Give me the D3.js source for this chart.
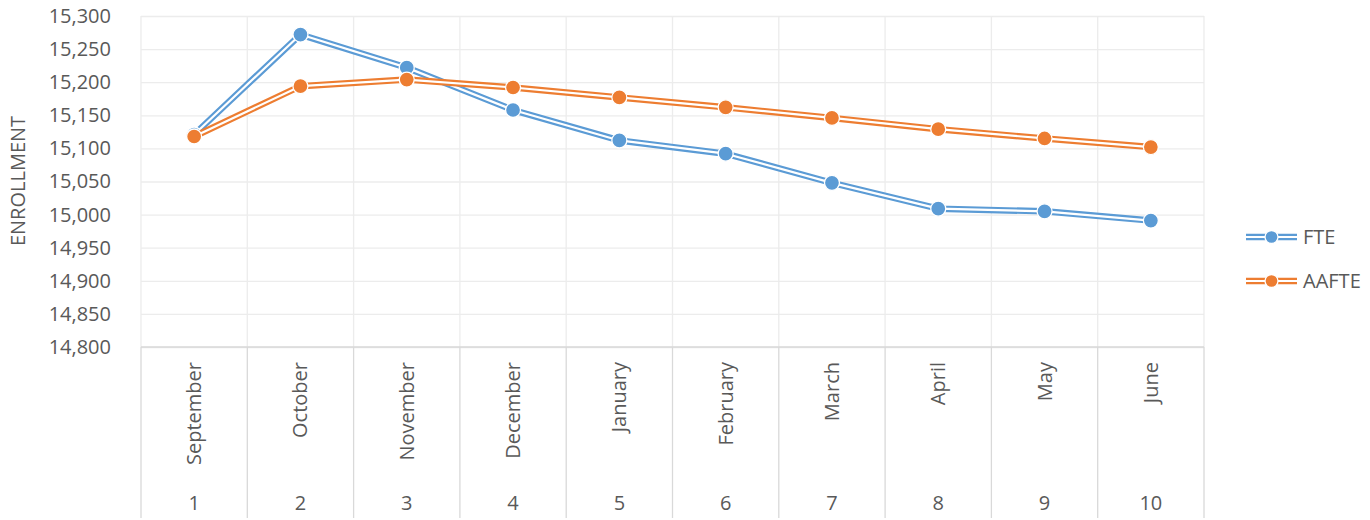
<!DOCTYPE html>
<html>
<head>
<meta charset="utf-8">
<script src="https://cdn.jsdelivr.net/npm/d3@7"></script>
<style>
    body { margin: 0; background: #fff; }
    svg text { font-family: "Open Sans", sans-serif; fill: #595959; }
</style>
</head>
<body>
<div id="content"></div>
<script>
// chart values
const months = ['September', 'October', 'November', 'December', 'January',
    'February', 'March', 'April', 'May', 'June'];
const periods = [1, 2, 3, 4, 5, 6, 7, 8, 9, 10];
const fte = [15121, 15272, 15222, 15158, 15112, 15092, 15048, 15009, 15005, 14991];
const aafte = [15118, 15194, 15204, 15192, 15177, 15162, 15146, 15129, 15115, 15102];
const yTicks = [14800, 14850, 14900, 14950, 15000, 15050, 15100, 15150, 15200, 15250, 15300];

const series = [
    { name: 'FTE', values: fte, color: '#5B9BD5' },
    { name: 'AAFTE', values: aafte, color: '#ED7D31' }
];

const width = 1370, height = 520;
const plot = { left: 141, right: 1204, top: 16, bottom: 347 };
const fontSize = '20px';

const svg = d3.select('#content').append('svg')
    .attr('width', width)
    .attr('height', height);

const x = d3.scaleBand()
    .domain(periods)
    .range([plot.left, plot.right]);

const y = d3.scaleLinear()
    .domain([14800, 15300])
    .range([plot.bottom, plot.top]);

const cx = d => x(d) + x.bandwidth() / 2;
const bounds = periods.map(p => x(p)).concat([plot.right]);

// horizontal gridlines + tick labels
svg.append('g')
    .attr('transform', `translate(${plot.left},0)`)
    .call(d3.axisLeft(y)
        .tickValues(yTicks)
        .tickSize(-(plot.right - plot.left))
        .tickPadding(30)
        .tickFormat(d3.format(',')))
    .call(g => g.select('.domain').remove())
    .call(g => g.selectAll('.tick line').attr('stroke', '#ececec').attr('stroke-width', 1.3))
    .call(g => g.selectAll('.tick text')
        .style('font-size', fontSize)
        .attr('fill', '#595959'));

// vertical gridlines
svg.append('g').selectAll('line.vgrid')
    .data(bounds)
    .join('line')
    .classed('vgrid', true)
    .attr('x1', d => d).attr('x2', d => d)
    .attr('y1', plot.top).attr('y2', plot.bottom)
    .attr('stroke', '#ececec')
    .attr('stroke-width', 1.3);

// category axis
svg.append('line')
    .attr('x1', plot.left).attr('x2', plot.right)
    .attr('y1', plot.bottom).attr('y2', plot.bottom)
    .attr('stroke', '#d9d9d9').attr('stroke-width', 1.3);

svg.append('g').selectAll('line.sep')
    .data(bounds)
    .join('line')
    .classed('sep', true)
    .attr('x1', d => d).attr('x2', d => d)
    .attr('y1', plot.bottom).attr('y2', 518)
    .attr('stroke', '#d9d9d9')
    .attr('stroke-width', 1.3);

svg.append('g').selectAll('text.month')
    .data(months)
    .join('text')
    .classed('month', true)
    .attr('transform', (d, i) => `translate(${cx(periods[i])},362) rotate(-90)`)
    .attr('text-anchor', 'end')
    .attr('dy', '0.35em')
    .style('font-size', fontSize)
    .text(d => d);

svg.append('g').selectAll('text.period')
    .data(periods)
    .join('text')
    .classed('period', true)
    .attr('x', d => cx(d))
    .attr('y', 503)
    .attr('text-anchor', 'middle')
    .attr('dy', '0.35em')
    .style('font-size', fontSize)
    .text(d => d);

// axis title
svg.append('text')
    .attr('transform', 'translate(18,181) rotate(-90)')
    .attr('text-anchor', 'middle')
    .attr('dy', '0.35em')
    .style('font-size', fontSize)
    .text('ENROLLMENT');

// series: double line + markers
const line = d3.line()
    .x((d, i) => cx(periods[i]))
    .y(d => y(d));

series.forEach(s => {
    const g = svg.append('g');
    g.append('path')
        .attr('d', line(s.values))
        .attr('fill', 'none')
        .attr('stroke', s.color)
        .attr('stroke-width', 6.5)
        .attr('stroke-linejoin', 'round');
    g.append('path')
        .attr('d', line(s.values))
        .attr('fill', 'none')
        .attr('stroke', '#fff')
        .attr('stroke-width', 2.2)
        .attr('stroke-linejoin', 'round');
    g.selectAll('circle')
        .data(s.values)
        .join('circle')
        .attr('cx', (d, i) => cx(periods[i]))
        .attr('cy', d => y(d))
        .attr('r', 7.5)
        .attr('fill', s.color)
        .attr('stroke', '#fff')
        .attr('stroke-width', 1.3);
});

// legend
const legend = svg.append('g').selectAll('g')
    .data(series)
    .join('g')
    .attr('transform', (d, i) => `translate(1246,${237 + i * 44})`);

legend.append('line')
    .attr('x1', 0).attr('x2', 51)
    .attr('stroke', d => d.color)
    .attr('stroke-width', 6.5);
legend.append('line')
    .attr('x1', 0).attr('x2', 51)
    .attr('stroke', '#fff')
    .attr('stroke-width', 2.2);
legend.append('circle')
    .attr('cx', 25.5)
    .attr('r', 6.5)
    .attr('fill', d => d.color)
    .attr('stroke', '#fff')
    .attr('stroke-width', 1.3);
legend.append('text')
    .attr('x', 57)
    .attr('dy', '0.35em')
    .style('font-size', fontSize)
    .text(d => d.name);
</script>
</body>
</html>
